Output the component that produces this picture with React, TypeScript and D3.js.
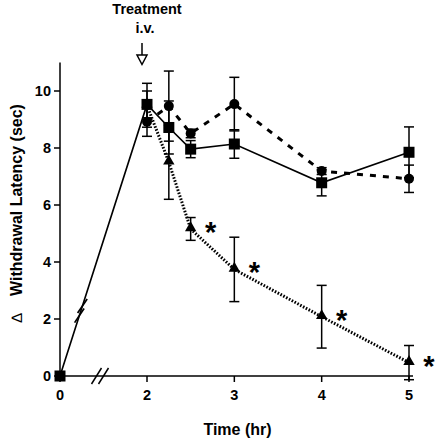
import React from "react";
import * as d3 from "d3";

const xTicks = [0, 2, 3, 4, 5];
const yTicks = [0, 2, 4, 6, 8, 10];

const squareTimes = [0, 2, 2.25, 2.5, 3, 4, 5];
const squareMean = [0, 9.53, 8.72, 7.96, 8.14, 6.78, 7.85];
const squareErr = [0, 0.47, 0.93, 0.3, 0.5, 0.46, 0.89];

const circleTimes = [2, 2.25, 2.5, 3, 4, 5];
const circleMean = [8.92, 9.47, 8.51, 9.54, 7.19, 6.92];
const circleErr = [0.51, 1.23, 0.15, 0.94, 0.12, 0.48];

const triTimes = [2, 2.25, 2.5, 3, 4, 5];
const triMean = [9.5, 7.5, 5.16, 3.74, 2.08, 0.47];
const triErr = [0.77, 1.3, 0.4, 1.13, 1.1, 0.6];
const triSignificant = [false, false, true, true, true, true];

const FONT = "'Liberation Sans', Arial, Helvetica, sans-serif";

export default function App() {
  const width = 436;
  const height = 440;
  const x = d3.scaleLinear().domain([0, 2, 5]).range([60, 147, 409]);
  const y = d3.scaleLinear().domain([0, 11]).range([376, 62.5]);

  const sq = squareTimes.map((t, i) => ({ t, m: squareMean[i], e: squareErr[i] }));
  const ci = circleTimes.map((t, i) => ({ t, m: circleMean[i], e: circleErr[i] }));
  const tr = triTimes.map((t, i) => ({ t, m: triMean[i], e: triErr[i], s: triSignificant[i] }));

  const line = d3
    .line<{ t: number; m: number }>()
    .x((d) => x(d.t))
    .y((d) => y(d.m));

  const errBars = (data: { t: number; m: number; e: number }[], key: string) =>
    data
      .filter((d) => d.e > 0)
      .map((d, i) => {
        const cx = x(d.t);
        const y1 = y(d.m + d.e);
        const y2 = y(d.m - d.e);
        return (
          <g key={key + i} stroke="#000" strokeWidth={1.5}>
            <line x1={cx} x2={cx} y1={y1} y2={y2} />
            <line x1={cx - 5} x2={cx + 5} y1={y1} y2={y1} />
            <line x1={cx - 5} x2={cx + 5} y1={y2} y2={y2} />
          </g>
        );
      });

  const triPath = d3.symbol(d3.symbolTriangle, 56)();

  // break mark on the rising segment
  const p0 = { x: x(0), y: y(0) };
  const p1 = { x: x(2), y: y(squareMean[1]) };
  const frac = 0.24;
  const bx = p0.x + (p1.x - p0.x) * frac;
  const by = p0.y + (p1.y - p0.y) * frac;
  const len = Math.hypot(p1.x - p0.x, p1.y - p0.y);
  const ux = (p1.x - p0.x) / len;
  const uy = (p1.y - p0.y) / len;
  const ang = (34 * Math.PI) / 180;
  const mx = Math.sin(ang);
  const my = -Math.cos(ang);

  return (
    <svg width={width} height={height} style={{ display: "block", position: "absolute", left: 0, top: 0 }}>
      <rect width={width} height={height} fill="#fff" />
      {/* axes */}
      <g stroke="#000" strokeWidth={1.5} fill="none">
        <line x1={x(0)} x2={x(0)} y1={y(0)} y2={y(11)} />
        <line x1={x(0)} x2={x(5) + 4} y1={y(0)} y2={y(0)} />
        {yTicks.map((t) => (
          <line key={"yt" + t} x1={x(0) - 6} x2={x(0)} y1={y(t)} y2={y(t)} />
        ))}
        {xTicks.map((t) => (
          <line key={"xt" + t} x1={x(t)} x2={x(t)} y1={y(0)} y2={y(0) + 6} />
        ))}
      </g>
      {/* x axis break */}
      <g stroke="#000" strokeWidth={1.5}>
        {[-3.5, 3.5].map((o, i) => (
          <line key={"xb" + i} x1={100 + o - 5} x2={100 + o + 5} y1={y(0) + 8} y2={y(0) - 8} />
        ))}
      </g>
      <g fill="#000" fontFamily={FONT} fontWeight="bold" fontSize={14.5}>
        {yTicks.map((t) => (
          <text key={"yl" + t} x={x(0) - 9} y={y(t) + 5} textAnchor="end">
            {t}
          </text>
        ))}
        {xTicks.map((t) => (
          <text key={"xl" + t} x={x(t)} y={400} textAnchor="middle">
            {t}
          </text>
        ))}
      </g>
      {/* lines */}
      <path d={line(sq) || ""} fill="none" stroke="#000" strokeWidth={1.6} />
      <path d={line(ci) || ""} fill="none" stroke="#000" strokeWidth={3} strokeDasharray="6,7" />
      <path d={line(tr) || ""} fill="none" stroke="#000" strokeWidth={3} strokeDasharray="1.6,1.6" />
      {/* break on rising line */}
      <g stroke="#000" strokeWidth={1.7}>
        {[-5, 5].map((o, i) => {
          const cx = bx + ux * o;
          const cy = by + uy * o;
          return (
            <line key={"lb" + i} x1={cx - mx * 8.5} y1={cy - my * 8.5} x2={cx + mx * 8.5} y2={cy + my * 8.5} />
          );
        })}
      </g>
      {/* error bars */}
      {errBars(tr, "te")}
      {errBars(ci, "ce")}
      {errBars(sq, "se")}
      {/* markers */}
      {tr.map((d, i) => (
        <path key={"tm" + i} d={triPath || ""} transform={`translate(${x(d.t)},${y(d.m) - 1})`} fill="#000" />
      ))}
      {ci.map((d, i) => (
        <circle key={"cm" + i} cx={x(d.t)} cy={y(d.m)} r={5} fill="#000" />
      ))}
      {sq.map((d, i) => (
        <rect key={"sm" + i} x={x(d.t) - 5.5} y={y(d.m) - 5.5} width={11} height={11} fill="#000" />
      ))}
      {/* significance */}
      <g fontFamily={FONT} fontWeight="bold" fontSize={29} fill="#000">
        {tr
          .filter((d) => d.s)
          .map((d, i) => (
            <text key={"as" + i} x={x(d.t) + 20} y={y(d.m) + 13} textAnchor="middle">
              *
            </text>
          ))}
      </g>
      {/* treatment annotation */}
      <g fontFamily={FONT} fontWeight="bold" fontSize={14.5} fill="#000" textAnchor="middle">
        <text x={147} y={14}>Treatment</text>
        <text x={145} y={33}>i.v.</text>
      </g>
      <g stroke="#000" strokeWidth={1.5}>
        <line x1={142} x2={142} y1={43} y2={55} />
        <path d="M137,55 L147,55 L142,64.5 Z" fill="#fff" />
      </g>
      {/* axis titles */}
      <text x={237.5} y={435} textAnchor="middle" fontFamily={FONT} fontWeight="bold" fontSize={16}>
        Time (hr)
      </text>
      <g transform="translate(22,0) rotate(-90)">
        <text x={-200} y={0} textAnchor="middle" fontFamily={FONT} fontWeight="bold" fontSize={16}>
          Withdrawal Latency (sec)
        </text>
        <text x={-318} y={0} textAnchor="middle" fontFamily={FONT} fontSize={15}>
          ∆
        </text>
      </g>
    </svg>
  );
}
